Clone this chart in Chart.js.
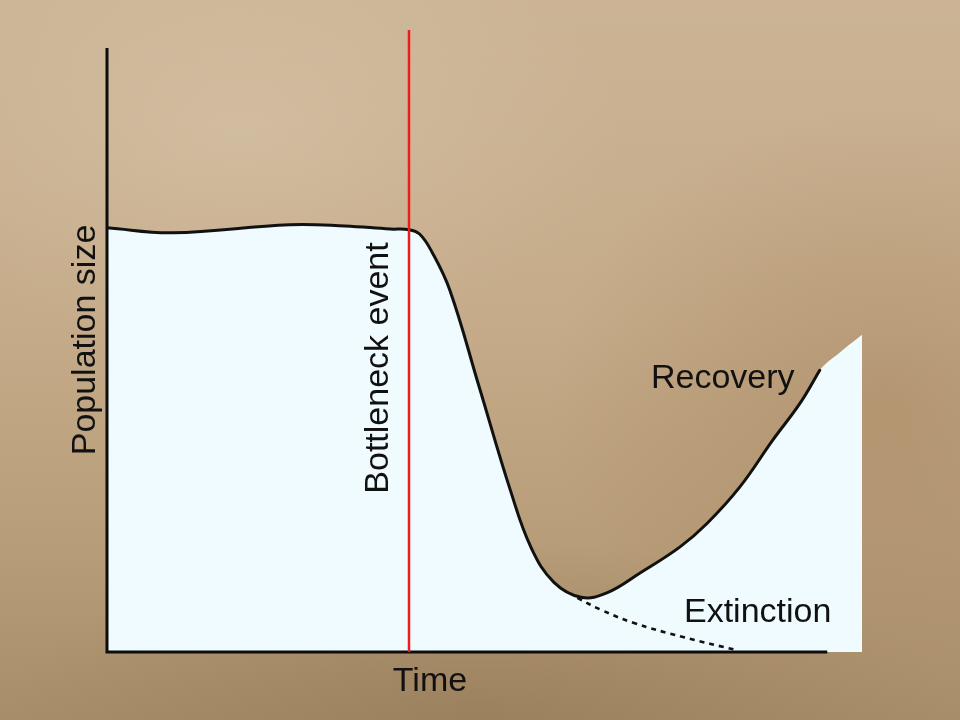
<!DOCTYPE html>
<html>
<head>
<meta charset="utf-8">
<title>Population bottleneck</title>
<script src="https://cdn.jsdelivr.net/npm/chart.js@4.4.1/dist/chart.umd.min.js"></script>
<style>
    html, body {
        margin: 0;
        padding: 0;
        width: 960px;
        height: 720px;
        overflow: hidden;
    }
    body {
        background:
            radial-gradient(ellipse 40% 30% at 25% 18%, rgba(222, 206, 182, 0.4), rgba(222, 206, 182, 0) 100%),
            radial-gradient(ellipse 35% 40% at 92% 55%, rgba(150, 112, 72, 0.3), rgba(150, 112, 72, 0) 100%),
            radial-gradient(ellipse 50% 25% at 50% 100%, rgba(130, 100, 65, 0.3), rgba(130, 100, 65, 0) 100%),
            linear-gradient(180deg, #cbb495 0%, #c5ab89 45%, #b89d79 75%, #a78d6a 100%);
    }
    #chart {
        display: block;
    }
</style>
</head>
<body>
<canvas id="chart" width="960" height="720"></canvas>
<script>
// population curve (time 0-100, size 0-100)
const curveTime = [0, 8.7, 24.2, 31.5, 37.5, 40.0, 41.4, 43.0, 45.4, 49.3, 53.4, 56.2, 59.2, 62.8,
    66.2, 70.6, 75.9, 79.5, 83.8, 88.2, 91.8, 94.4];
const curveSize = [68.2, 67.4, 68.7, 68.5, 68.0, 67.9, 67.2, 64.4, 58.2, 42.6, 26.1, 16.7, 11.2, 8.8,
    9.5, 12.7, 16.9, 20.7, 26.5, 34.1, 40.0, 45.3];

// shaded area keeps going past the end of the drawn curve
const shadeTime = [97.1, 100];
const shadeSize = [48.2, 51.0];

// extinction branch
const extinctTime = [62.3, 65.4, 69.7, 76.3, 83.4];
const extinctSize = [8.7, 6.8, 4.7, 2.4, 0.3];

// bottleneck event
const eventTime = 40.0;

// axes
const axisTop = 97.1;
const axisEnd = 95.4;

const toPoints = (xs, ys) => xs.map((x, i) => ({ x: x, y: ys[i] }));

const textLabels = {
    id: 'textLabels',
    afterDraw(chart) {
        const ctx = chart.ctx;
        ctx.save();
        ctx.fillStyle = '#111';
        ctx.font = '34px "Liberation Sans", Arial, sans-serif';
        ctx.textBaseline = 'alphabetic';

        ctx.textAlign = 'center';
        ctx.fillText('Time', 430, 691);

        ctx.textAlign = 'left';
        ctx.fillText('Recovery', 651, 388);
        ctx.fillText('Extinction', 684, 622);

        ctx.textAlign = 'center';
        ctx.save();
        ctx.translate(95, 340);
        ctx.rotate(-Math.PI / 2);
        ctx.fillText('Population size', 0, 0);
        ctx.restore();

        ctx.save();
        ctx.translate(388, 368);
        ctx.rotate(-Math.PI / 2);
        ctx.fillText('Bottleneck event', 0, 0);
        ctx.restore();

        ctx.restore();
    }
};

const ctx = document.getElementById('chart').getContext('2d');
new Chart(ctx, {
    type: 'line',
    data: {
        datasets: [
            {
                // light fill under the curve
                data: toPoints(curveTime.concat(shadeTime), curveSize.concat(shadeSize)),
                fill: 'origin',
                backgroundColor: '#effbff',
                borderWidth: 0,
                pointRadius: 0,
                tension: 0.4,
                order: 5
            },
            {
                // axes
                data: [{ x: 0, y: axisTop }, { x: 0, y: 0 }, { x: axisEnd, y: 0 }],
                borderColor: '#0d0d0d',
                borderWidth: 3,
                pointRadius: 0,
                fill: false,
                tension: 0,
                clip: false,
                order: 4
            },
            {
                // bottleneck event marker
                data: [{ x: eventTime, y: 0 }, { x: eventTime, y: 100 }],
                borderColor: '#ee1c1c',
                borderWidth: 2.5,
                pointRadius: 0,
                fill: false,
                tension: 0,
                clip: false,
                order: 2
            },
            {
                data: toPoints(curveTime, curveSize),
                borderColor: '#111',
                borderWidth: 3,
                pointRadius: 0,
                fill: false,
                tension: 0.4,
                borderCapStyle: 'round',
                order: 3
            },
            {
                data: toPoints(extinctTime, extinctSize),
                borderColor: '#111',
                borderWidth: 2.6,
                borderDash: [5, 5],
                pointRadius: 0,
                fill: false,
                tension: 0.4,
                order: 3
            }
        ]
    },
    options: {
        responsive: false,
        animation: false,
        devicePixelRatio: 1,
        layout: {
            padding: { left: 107, right: 98, top: 30, bottom: 68 }
        },
        scales: {
            x: { type: 'linear', min: 0, max: 100, display: false },
            y: { type: 'linear', min: 0, max: 100, display: false }
        },
        plugins: {
            legend: { display: false },
            tooltip: { enabled: false }
        }
    },
    plugins: [textLabels]
});
</script>
</body>
</html>
